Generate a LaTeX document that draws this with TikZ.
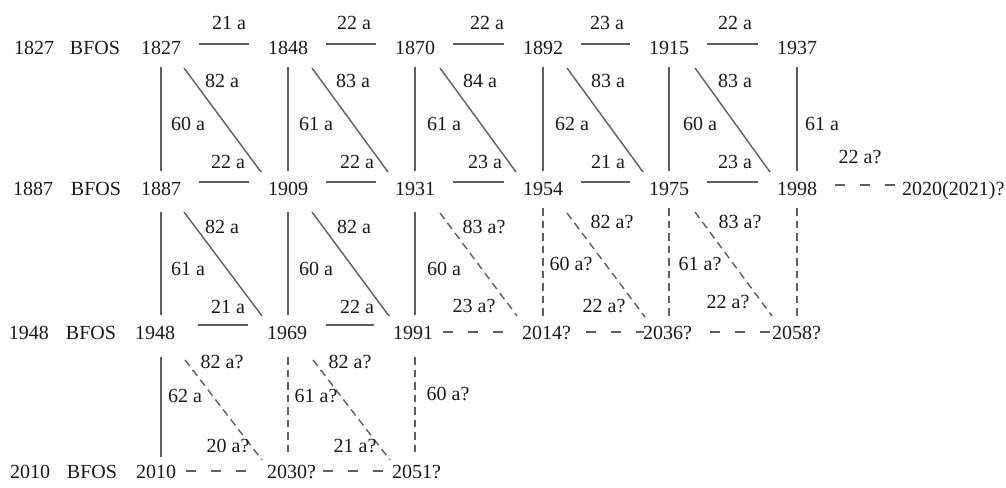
\documentclass[tikz,border=0pt]{standalone}
\usepackage{fontspec}
\setmainfont{Liberation Serif}
\usetikzlibrary{calc}
\definecolor{linegray}{RGB}{95,95,95}
\definecolor{txt}{RGB}{25,25,25}
\tikzset{
  yr/.style={inner sep=0pt, anchor=base, text=txt, font=\fontsize{20}{23}\selectfont},
  yrw/.style={yr, anchor=base west},
  lab/.style={inner sep=0pt, anchor=base, text=txt, font=\fontsize{20}{23}\selectfont},
  ln/.style={draw=linegray, line width=1.4pt},
  hd/.style={ln, dash pattern=on 10pt off 15pt},
  vd/.style={ln, dash pattern=on 7.5pt off 5pt}
}
\begin{document}
\begin{tikzpicture}[x=1pt,y=-1pt]
\useasboundingbox (0,0) rectangle (1006,487);
% row 1
\node[yr] (l1a) at (34,55) {1827};
\node[yr] (l1b) at (95,55) {BFOS};
\node[yr] (a0) at (161,55) {1827};
\node[yr] (a1) at (288,55) {1848};
\node[yr] (a2) at (415,55) {1870};
\node[yr] (a3) at (543,55) {1892};
\node[yr] (a4) at (669,55) {1915};
\node[yr] (a5) at (797,55) {1937};
% row 2
\node[yr] (l2a) at (33,195) {1887};
\node[yr] (l2b) at (96,195) {BFOS};
\node[yr] (b0) at (161,195) {1887};
\node[yr] (b1) at (288,195) {1909};
\node[yr] (b2) at (415,195) {1931};
\node[yr] (b3) at (543,195) {1954};
\node[yr] (b4) at (669,195) {1975};
\node[yr] (b5) at (797,195) {1998};
\node[yrw] (b6) at (902,195) {2020(2021)?};
% row 3
\node[yr] (l3a) at (29,339) {1948};
\node[yr] (l3b) at (91,339) {BFOS};
\node[yr] (c0) at (155,339) {1948};
\node[yr] (c1) at (287,339) {1969};
\node[yr] (c2) at (413,339) {1991};
\node[yrw] (c3) at (522,339) {2014?};
\node[yrw] (c4) at (643,339) {2036?};
\node[yrw] (c5) at (772,339) {2058?};
% row 4
\node[yr] (l4a) at (30,478) {2010};
\node[yr] (l4b) at (92,478) {BFOS};
\node[yr] (d0) at (156,478) {2010};
\node[yrw] (d1) at (267,478) {2030?};
\node[yrw] (d2) at (392,478) {2051?};

% top labels
\node[lab] (t0) at (229,30) {21 a};
\node[lab] (t1) at (354,30) {22 a};
\node[lab] (t2) at (487,30) {22 a};
\node[lab] (t3) at (607,30) {23 a};
\node[lab] (t4) at (735,30) {22 a};

% row 1 horizontals
\draw[ln] ($(a0.base east)+(18,-11)$) -- ($(a1.base west)+(-19,-11)$);
\draw[ln] ($(a1.base east)+(18,-11)$) -- ($(a2.base west)+(-19,-11)$);
\draw[ln] ($(a2.base east)+(18,-11)$) -- ($(a3.base west)+(-19,-11)$);
\draw[ln] ($(a3.base east)+(18,-11)$) -- ($(a4.base west)+(-19,-11)$);
\draw[ln] ($(a4.base east)+(18,-11)$) -- ($(a5.base west)+(-19,-11)$);
% row 2 horizontals
\draw[ln] ($(b0.base east)+(18,-13)$) -- ($(b1.base west)+(-19,-13)$);
\draw[ln] ($(b1.base east)+(18,-13)$) -- ($(b2.base west)+(-19,-13)$);
\draw[ln] ($(b2.base east)+(18,-13)$) -- ($(b3.base west)+(-19,-13)$);
\draw[ln] ($(b3.base east)+(18,-13)$) -- ($(b4.base west)+(-19,-13)$);
\draw[ln] ($(b4.base east)+(18,-13)$) -- ($(b5.base west)+(-19,-13)$);
\draw[hd] ($(b5.base east)+(18,-10)$) -- ($(b6.base west)+(-4,-10)$);
% row 3 horizontals
\draw[ln] ($(c0.base east)+(23,-14)$) -- ($(c1.base west)+(-19,-14)$);
\draw[ln] ($(c1.base east)+(19,-14)$) -- ($(c2.base west)+(-19,-14)$);
\draw[hd] ($(c2.base east)+(10,-7)$) -- ($(c3.base west)+(-19,-7)$);
\draw[hd] ($(c3.base east)+(15,-7)$) -- ($(c4.base west)+(1,-7)$);
\draw[hd] ($(c4.base east)+(18,-7)$) -- ($(c5.base west)+(0,-7)$);
% row 4 horizontals
\draw[hd] ($(d0.base east)+(10,-7)$) -- ($(d1.base west)+(-20,-7)$);
\draw[hd] ($(d1.base east)+(7,-7)$) -- ($(d2.base west)+(-2,-7)$);

% verticals row1 -> row2
\draw[ln] ($(a0.base)+(0,12)$) -- ($(a0.base |- b0.base)+(0,-24)$);
\draw[ln] ($(a1.base)+(0,12)$) -- ($(a1.base |- b1.base)+(0,-24)$);
\draw[ln] ($(a2.base)+(0,12)$) -- ($(a2.base |- b2.base)+(0,-24)$);
\draw[ln] ($(a3.base)+(0,12)$) -- ($(a3.base |- b3.base)+(0,-24)$);
\draw[ln] ($(a4.base)+(0,12)$) -- ($(a4.base |- b4.base)+(0,-24)$);
\draw[ln] ($(a5.base)+(0,12)$) -- ($(a5.base |- b5.base)+(0,-24)$);
% verticals row2 -> row3
\draw[ln] ($(b0.base)+(0,17)$) -- ($(b0.base |- c0.base)+(0,-24)$);
\draw[ln] ($(b1.base)+(0,17)$) -- ($(b1.base |- c1.base)+(0,-24)$);
\draw[ln] ($(b2.base)+(0,17)$) -- ($(b2.base |- c2.base)+(0,-24)$);
\draw[vd] ($(b3.base)+(0,13)$) -- ($(b3.base |- c3.base)+(0,-22)$);
\draw[vd] ($(b4.base)+(0,13)$) -- ($(b4.base |- c4.base)+(0,-22)$);
\draw[vd] ($(b5.base)+(0,13)$) -- ($(b5.base |- c5.base)+(0,-22)$);
% verticals row3 -> row4
\draw[ln] ($(c0.base)+(6,18)$) -- ($(c0.base |- d0.base)+(6,-21)$);
\draw[vd] ($(c1.base)+(1,18)$) -- ($(c1.base |- d1.base)+(1,-21)$);
\draw[vd] ($(c2.base)+(2,18)$) -- ($(c2.base |- d2.base)+(2,-21)$);

% diagonals row1 -> row2
\draw[ln] ($(a0.base)+(23,13)$) -- ($(b1.base)+(-27,-23)$);
\draw[ln] ($(a1.base)+(24,13)$) -- ($(b2.base)+(-27,-23)$);
\draw[ln] ($(a2.base)+(25,13)$) -- ($(b3.base)+(-27,-23)$);
\draw[ln] ($(a3.base)+(24,13)$) -- ($(b4.base)+(-26,-23)$);
\draw[ln] ($(a4.base)+(26,13)$) -- ($(b5.base)+(-27,-23)$);
% diagonals row2 -> row3
\draw[ln] ($(b0.base)+(23,17)$) -- ($(c1.base)+(-25,-23)$);
\draw[ln] ($(b1.base)+(24,17)$) -- ($(c2.base)+(-24,-23)$);
\draw[vd] ($(b2.base)+(25,18)$) -- ($(c3.base west)+(-5,-23)$);
\draw[vd] ($(b3.base)+(24,18)$) -- ($(c4.base west)+(2,-22)$);
\draw[vd] ($(b4.base)+(26,17)$) -- ($(c5.base west)+(0,-23)$);
% diagonals row3 -> row4
\draw[vd] ($(c0.base)+(30,21)$) -- ($(d1.base west)+(-5,-18)$);
\draw[vd] ($(c1.base)+(26,21)$) -- ($(d2.base west)+(-2,-18)$);

% cell labels row1 -> row2
\node[lab] (p00) at (222,88) {82 a};
\node[lab] (p01) at (188,130) {60 a};
\node[lab] (p02) at (228,168) {22 a};
\node[lab] (p10) at (353,88) {83 a};
\node[lab] (p11) at (316,130) {61 a};
\node[lab] (p12) at (357,168) {22 a};
\node[lab] (p20) at (480,88) {84 a};
\node[lab] (p21) at (444,130) {61 a};
\node[lab] (p22) at (485,168) {23 a};
\node[lab] (p30) at (608,88) {83 a};
\node[lab] (p31) at (572,130) {62 a};
\node[lab] (p32) at (608,168) {21 a};
\node[lab] (p40) at (735,88) {83 a};
\node[lab] (p41) at (700,130) {60 a};
\node[lab] (p42) at (735,168) {23 a};
\node[lab] (p51) at (822,130) {61 a};
\node[lab] (p6) at (860,163) {22 a?};
% cell labels row2 -> row3
\node[lab] (q00) at (222,233) {82 a};
\node[lab] (q01) at (188,275) {61 a};
\node[lab] (q02) at (228,313) {21 a};
\node[lab] (q10) at (354,233) {82 a};
\node[lab] (q11) at (316,275) {60 a};
\node[lab] (q12) at (357,313) {22 a};
\node[lab] (q20) at (484,233) {83 a?};
\node[lab] (q21) at (444,275) {60 a};
\node[lab] (q22) at (474,312) {23 a?};
\node[lab] (q30) at (612,228) {82 a?};
\node[lab] (q31) at (571,270) {60 a?};
\node[lab] (q32) at (604,312) {22 a?};
\node[lab] (q40) at (740,228) {83 a?};
\node[lab] (q41) at (700,270) {61 a?};
\node[lab] (q42) at (728,308) {22 a?};
% cell labels row3 -> row4
\node[lab] (r00) at (222,368) {82 a?};
\node[lab] (r01) at (185,402) {62 a};
\node[lab] (r02) at (228,452) {20 a?};
\node[lab] (r10) at (350,368) {82 a?};
\node[lab] (r11) at (316,402) {61 a?};
\node[lab] (r12) at (355,452) {21 a?};
\node[lab] (r21) at (448,400) {60 a?};
\end{tikzpicture}
\end{document}
